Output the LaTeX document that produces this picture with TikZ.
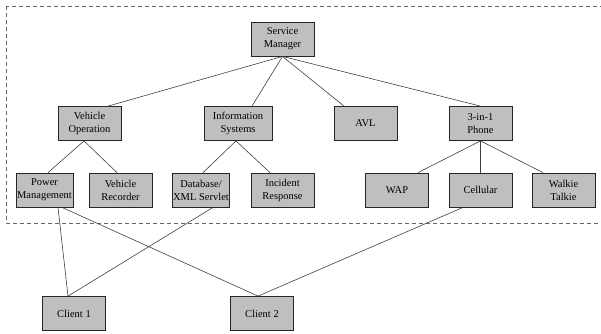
\documentclass[tikz,border=0pt]{standalone}
\usepackage{fontspec}
\setmainfont{Liberation Serif}
\begin{document}
\begin{tikzpicture}[x=1pt, y=-1pt,
        module/.style={draw=black!85, line width=0.8pt, fill=gray!50, minimum width=63pt, minimum height=34pt,
            inner sep=1pt, align=center, font=\fontsize{10.5}{13}\selectfont},
        link/.style={draw=black!75, line width=0.6pt},
        group/.style={draw=black!60, line width=0.7pt, dash pattern=on 4pt off 3pt}]
        \useasboundingbox (0, 0) rectangle (601, 333);
        \clip (0, 0) rectangle (601, 333);

        % Dashed area round the service tree
        \draw[group] (6, 6) rectangle (620, 223);

        % Top level
        \node[module] (sm) at (282.5, 39) {Service\\Manager};

        % Second level
        \node[module] (vo) at (89.5, 123.5) {Vehicle\\Operation};
        \node[module, minimum width=68pt] (is) at (238, 123.5) {Information\\Systems};
        \node[module] (avl) at (365.5, 123.5) {AVL};
        \node[module] (ph) at (480.5, 123.5) {3-in-1\\Phone};

        % Third level
        \node[module, minimum width=57pt] (pm) at (44.5, 190) {Power\\Management};
        \node[module] (vr) at (120.5, 190) {Vehicle\\Recorder};
        \node[module, minimum width=56pt] (db) at (201, 190) {Database/\\XML Servlet};
        \node[module] (ir) at (282.5, 190) {Incident\\Response};
        \node[module] (wap) at (397, 190) {WAP};
        \node[module] (cel) at (480.5, 190) {Cellular};
        \node[module] (wt) at (563.5, 190) {Walkie\\Talkie};

        % Clients
        \node[module] (c1) at (74, 313.5) {Client 1};
        \node[module] (c2) at (262, 313.5) {Client 2};

        % Links of the tree
        \draw[link] (sm.south) -- ([xshift=18.5pt]vo.north);
        \draw[link] (sm.south) -- ([xshift=14pt]is.north);
        \draw[link] (sm.south) -- ([xshift=-21.5pt]avl.north);
        \draw[link] (sm.south) -- (ph.north);
        \draw[link] ([xshift=-5.5pt]vo.south) -- ([xshift=3.5pt]pm.north);
        \draw[link] ([xshift=-5.5pt]vo.south) -- ([xshift=-3.5pt]vr.north);
        \draw[link] ([xshift=-2pt]is.south) -- ([xshift=2pt]db.north);
        \draw[link] ([xshift=-2pt]is.south) -- ([xshift=-12.5pt]ir.north);
        \draw[link] (ph.south) -- ([xshift=21pt]wap.north);
        \draw[link] (ph.south) -- (cel.north);
        \draw[link] (ph.south) -- ([xshift=-20.5pt]wt.north);

        % Links down to the clients
        \draw[link] ([xshift=13.5pt]pm.south) -- ([xshift=-6pt]c1.north);
        \draw[link] ([xshift=17.5pt]pm.south) -- ([xshift=-4pt]c2.north);
        \draw[link] ([xshift=12pt]db.south) -- ([xshift=-6pt]c1.north);
        \draw[link] ([xshift=-17.5pt]cel.south) -- ([xshift=-4pt]c2.north);
    \end{tikzpicture}
\end{document}
